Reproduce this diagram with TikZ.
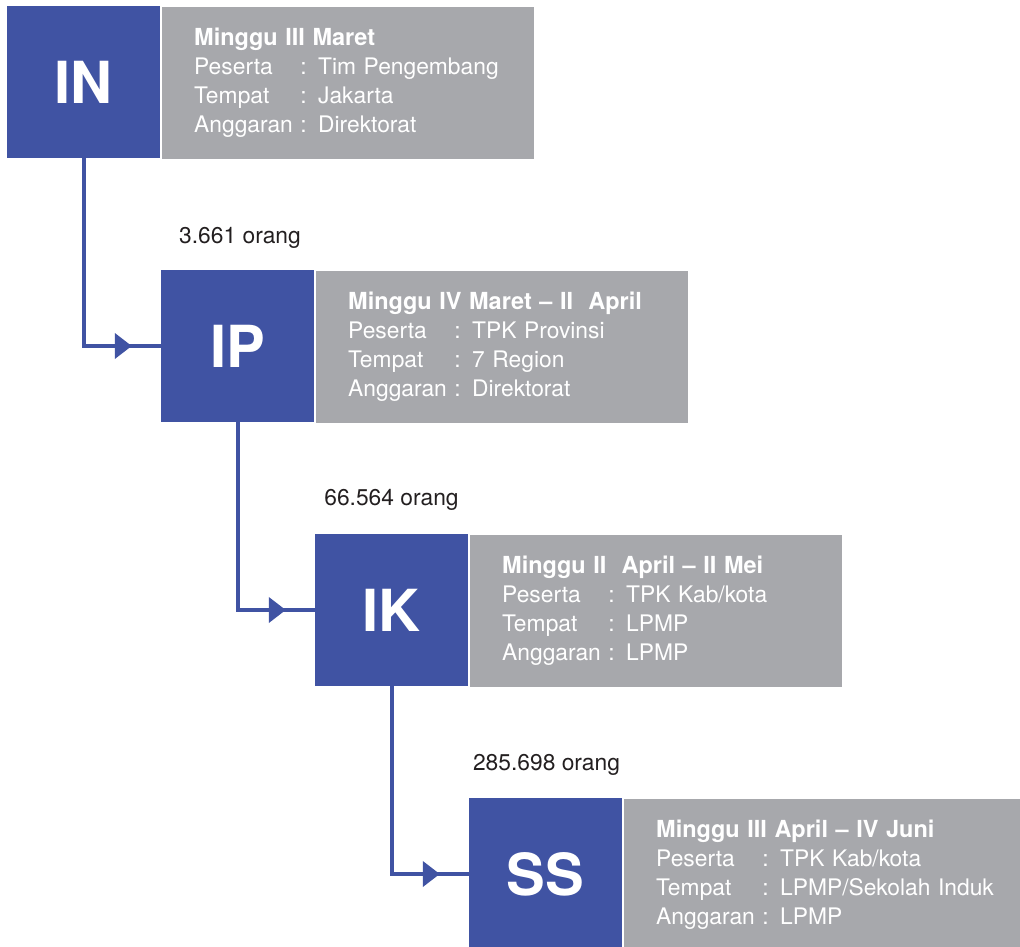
\documentclass[tikz,border=0pt]{standalone}
\usepackage{fontspec}
\setmainfont{TeX Gyre Heros}
\usepackage{tikz}
\usetikzlibrary{arrows.meta,decorations.markings}
\definecolor{kotak}{RGB}{64,83,163}
\definecolor{abu}{RGB}{167,168,172}
\definecolor{teks}{RGB}{35,31,32}
\newcommand{\rincian}[4]{\begin{tabular}{@{}l@{ }l@{}}
	\multicolumn{2}{@{}l@{}}{\fontsize{23.5}{29}\selectfont\bfseries #1}\\
	Peserta  & : #2\\
	Tempat   & : #3\\
	Anggaran & : #4
	\end{tabular}}

\begin{document}
\begin{tikzpicture}[x=1pt, y=-1pt]
	\tikzstyle{every node} = [rectangle, inner sep=0pt]
	\tikzstyle{kode}   = [fill=kotak, text=white, minimum width=153pt, minimum height=152pt,
	                      font=\fontsize{58}{60}\selectfont\bfseries]
	\tikzstyle{info}   = [fill=abu, text=white, anchor=west, minimum height=152pt, inner xsep=32pt,
	                      text width=308pt, align=left, font=\fontsize{22.8}{29}\selectfont]
	\tikzstyle{jumlah} = [text=teks, font=\fontsize{22.8}{26}\selectfont]
	\tikzstyle{alur}   = [draw=kotak, line width=4pt, postaction={decorate},
	                      decoration={markings, mark=at position -29pt with
	                      {\arrow[kotak]{Triangle[length=17pt, width=25pt]}}}]
	\useasboundingbox (0,0) rectangle (1020,947);
	\node [kode] (in)    at (83.5, 82)  {IN};
	\node [info] (inket) at (162, 83)   {\rincian{Minggu III Maret}{Tim Pengembang}{Jakarta}{Direktorat}};
	\node [jumlah] (jml1) at (240, 238) {3.661 orang};
	\node [kode] (ip)    at (237.5, 346) {IP};
	\node [info] (ipket) at (316, 347)  {\rincian{Minggu IV Maret -- II\ \ April}{TPK Provinsi}{7 Region}{Direktorat}};
	\node [jumlah] (jml2) at (391.5, 500) {66.564 orang};
	\node [kode] (ik)    at (391.5, 610) {IK};
	\node [info] (ikket) at (470, 611)  {\rincian{Minggu II\ \ April -- II Mei}{TPK Kab/kota}{LPMP}{LPMP}};
	\node [jumlah] (jml3) at (546.5, 765) {285.698 orang};
	\node [kode] (ss)    at (545.5, 874) {SS};
	\node [info, text width=340pt] (ssket) at (624, 875) {\rincian{Minggu III April -- IV Juni}{TPK Kab/kota}{LPMP/Sekolah Induk}{LPMP}};
	\draw [alur] (in.south) |- (ip.west);
	\draw [alur] (ip.south) |- (ik.west);
	\draw [alur] (ik.south) |- (ss.west);
\end{tikzpicture}
\end{document}
